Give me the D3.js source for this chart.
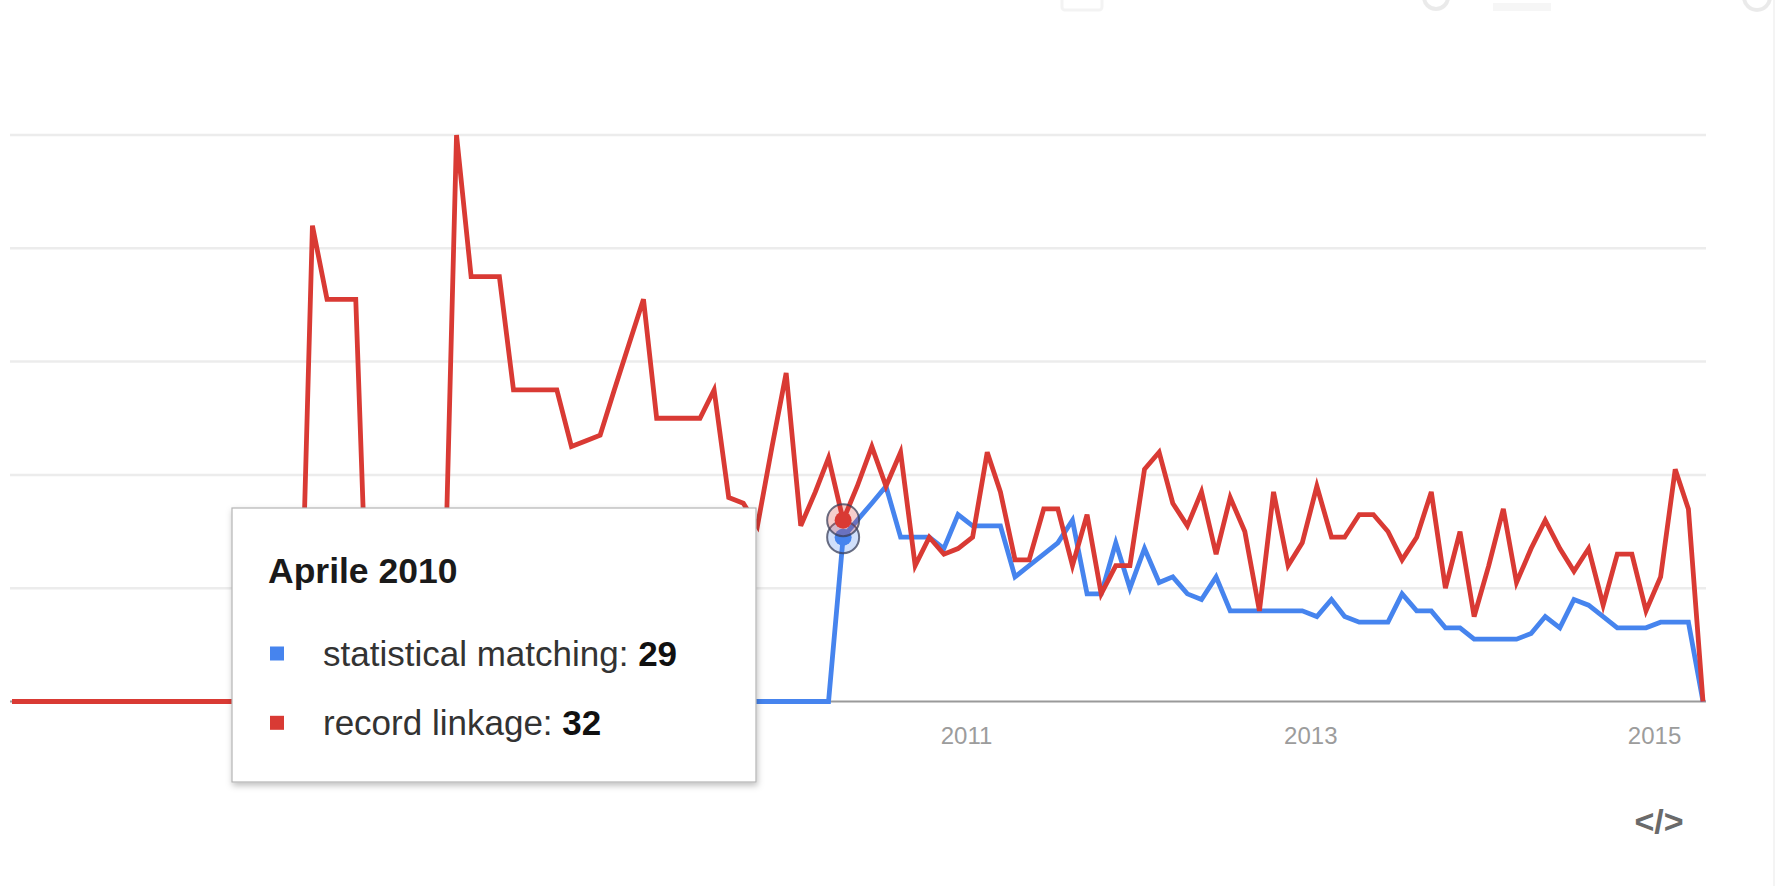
<!DOCTYPE html>
<html>
<head>
<meta charset="utf-8">
<script src="https://cdn.jsdelivr.net/npm/d3@7/dist/d3.min.js"></script>
<style>
  html, body { margin: 0; padding: 0; background: #ffffff; }
  svg { display: block; font-family: "Liberation Sans", Arial, sans-serif; }
</style>
</head>
<body>
<svg id="chart" width="1782" height="886"></svg>
<script>
// ---------------- DATA ----------------
const startMonth = [2005, 6];          // first plotted month (June 2005)
const seriesNames = ["statistical matching", "record linkage"];
const seriesColors = ["#4684ee", "#d93a34"];

const statisticalMatching = [
  0,0,0,0,0,0,0,0,0,0, 0,0,0,0,0,0,0,0,0,0,
  0,0,0,0,0,0,0,0,0,0, 0,0,0,0,0,0,0,0,0,0,
  0,0,0,0,0,0,0,0,0,0, 0,0,0,0,0,0,0,0,
  29,32,35,
  38,29,29,29,27,33,31,31,31,22,
  24,26,28,32,19,19,28,20,27,21,
  22,19,18,22,16,16,16,16,16,16,
  15,18,15,14,14,14,19,16,16,13,
  13,11,11,11,11,12,15,13,18,17,
  15,13,13,13,14,14,14,0
];

const recordLinkage = [
  0,0,0,0,0,0,0,0,0,0, 0,0,0,0,0,0,0,0,0,0, 0,
  84,71,71,71,0,0,0,0,0,0,
  100,75,75,75,55,55,55,55,45,46,
  47,55,63,71,50,50,50,50,55,36,
  35,31,45,58,31,37,43,32,38,45,
  38,44,24,29,26,27,29,44,37,25,
  25,34,34,24,33,19,24,24,41,44,
  35,31,37,26,36,30,16,37,24,28,
  38,29,29,33,33,30,25,29,37,20,
  30,15,24,34,21,27,32,27,23,27,
  17,26,26,16,22,41,34,0
];

const yearTicks = [2011, 2013, 2015];
const gridValues = [20, 40, 60, 80, 100];
const tooltipTitle = "Aprile 2010";
const tooltipMonth = [2010, 4];

// ---------------- SETUP ----------------
const svg = d3.select("#chart");
const n = recordLinkage.length;
const dates = d3.range(n).map(i => new Date(startMonth[0], startMonth[1] - 1 + i, 15));

const x = d3.scaleTime()
  .domain([dates[0], dates[n - 1]])
  .range([12, 1703]);
const y = d3.scaleLinear().domain([0, 100]).range([701.5, 135]);
const plotLeft = 10, plotRight = 1706;

// faint decorations at the top (cut-off toolbar icons) and right edge
const deco = svg.append("g").attr("opacity", 0.3);
deco.append("rect").attr("x", 1062).attr("y", -4).attr("width", 40).attr("height", 14)
  .attr("rx", 3).attr("fill", "none").attr("stroke", "#d8d8d8").attr("stroke-width", 3);
deco.append("circle").attr("cx", 1436).attr("cy", -3).attr("r", 12)
  .attr("fill", "none").attr("stroke", "#bdbdbd").attr("stroke-width", 4);
deco.append("rect").attr("x", 1493).attr("y", 3).attr("width", 58).attr("height", 8)
  .attr("fill", "#e4e4e4");
deco.append("circle").attr("cx", 1757).attr("cy", -3).attr("r", 13)
  .attr("fill", "none").attr("stroke", "#bdbdbd").attr("stroke-width", 4);
svg.append("line").attr("x1", 1774).attr("x2", 1774).attr("y1", 0).attr("y2", 886)
  .attr("stroke", "#f4f4f4").attr("stroke-width", 2);

// gridlines
svg.append("g").selectAll("line").data(gridValues).join("line")
  .attr("x1", plotLeft).attr("x2", plotRight)
  .attr("y1", d => y(d)).attr("y2", d => y(d))
  .attr("stroke", "#ececec").attr("stroke-width", 2.5);

// baseline
svg.append("line")
  .attr("x1", plotLeft).attr("x2", plotRight)
  .attr("y1", y(0)).attr("y2", y(0))
  .attr("stroke", "#9a9a9a").attr("stroke-width", 2);

// x axis labels
const xAxis = d3.axisBottom(x)
  .tickValues(yearTicks.map(yr => new Date(yr, 0, 1)))
  .tickFormat(d3.timeFormat("%Y"))
  .tickSize(0);
const axG = svg.append("g").attr("transform", `translate(0,${y(0)})`).call(xAxis);
axG.select(".domain").remove();
axG.selectAll("text")
  .attr("y", 25)
  .attr("dy", "0.71em")
  .attr("fill", "#9c9c9c")
  .style("font-size", "24px")
  .style("font-family", "'Liberation Sans', Arial, sans-serif");

// lines
const line = d3.line().x((d, i) => x(dates[i])).y(d => y(d));
const seriesData = [statisticalMatching, recordLinkage];
seriesData.forEach((s, k) => {
  svg.append("path")
    .datum(s)
    .attr("d", line)
    .attr("fill", "none")
    .attr("stroke", seriesColors[k])
    .attr("stroke-width", 4.8)
    .attr("stroke-linejoin", "miter");
});

// hover markers
const tIdx = dates.findIndex(d => d.getFullYear() === tooltipMonth[0] && d.getMonth() === tooltipMonth[1] - 1);
seriesData.forEach((s, k) => {
  const cx = x(dates[tIdx]), cy = y(s[tIdx]);
  svg.append("circle").attr("cx", cx).attr("cy", cy).attr("r", 16)
    .attr("fill", seriesColors[k]).attr("fill-opacity", 0.25)
    .attr("stroke", "#3a3f5a").attr("stroke-opacity", 0.75).attr("stroke-width", 2);
  svg.append("circle").attr("cx", cx).attr("cy", cy).attr("r", 8.5)
    .attr("fill", seriesColors[k]);
});

// tooltip
const defs = svg.append("defs");
const f = defs.append("filter").attr("id", "shadow").attr("x", "-10%").attr("y", "-10%")
  .attr("width", "130%").attr("height", "130%");
f.append("feDropShadow").attr("dx", 1).attr("dy", 3).attr("stdDeviation", 3)
  .attr("flood-color", "#000").attr("flood-opacity", 0.25);

const tip = svg.append("g");
tip.append("rect")
  .attr("x", 232).attr("y", 508).attr("width", 524).attr("height", 274)
  .attr("fill", "#ffffff").attr("stroke", "#b4b4b4").attr("stroke-width", 1.2)
  .attr("filter", "url(#shadow)");
tip.append("text")
  .attr("x", 268).attr("y", 583)
  .attr("fill", "#1a1a1a")
  .style("font-size", "35.5px").style("font-weight", "bold")
  .text(tooltipTitle);

const rowY = [653.5, 722.8];
seriesData.forEach((s, k) => {
  tip.append("rect")
    .attr("x", 270).attr("y", rowY[k] - 7).attr("width", 14).attr("height", 14)
    .attr("fill", seriesColors[k]);
  const t = tip.append("text")
    .attr("x", 323).attr("y", rowY[k] + 12)
    .style("font-size", "35px");
  t.append("tspan").attr("fill", "#333").text(seriesNames[k] + ": ");
  t.append("tspan").attr("fill", "#111").style("font-weight", "bold").text(s[tIdx]);
});

// embed icon
svg.append("text")
  .attr("x", 1659).attr("y", 833)
  .attr("text-anchor", "middle")
  .attr("fill", "#6a6a6a")
  .style("font-size", "34px").style("font-weight", "bold")
  .text("</>");
</script>
</body>
</html>
